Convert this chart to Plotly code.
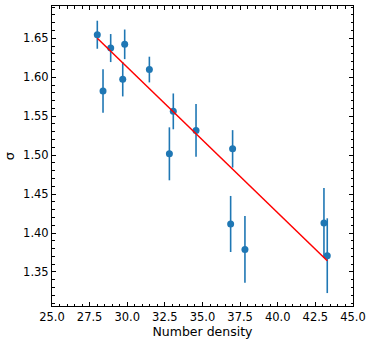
import plotly.graph_objects as go

number_density = [28.01, 28.39, 28.90, 29.70, 29.83, 31.47, 33.06, 32.80, 34.57, 37.00, 36.87, 37.82, 43.07, 43.29]
sigma = [1.6546, 1.5824, 1.6375, 1.5974, 1.6423, 1.6099, 1.5562, 1.5017, 1.5318, 1.5081, 1.4116, 1.3790, 1.4129, 1.3709]
sigma_err = [0.018, 0.028, 0.018, 0.022, 0.019, 0.0165, 0.023, 0.034, 0.034, 0.024, 0.036, 0.043, 0.045, 0.048]

fit_x = [28.01, 43.29]
fit_y = [1.6500, 1.3645]

x_ticks = [25.0, 27.5, 30.0, 32.5, 35.0, 37.5, 40.0, 42.5, 45.0]
y_ticks = [1.35, 1.40, 1.45, 1.50, 1.55, 1.60, 1.65]

blue = "#1f77b4"

fig = go.Figure()
fig.add_trace(go.Scatter(
    x=number_density, y=sigma, mode="markers",
    marker=dict(color=blue, size=7),
    error_y=dict(type="data", array=sigma_err, color=blue, thickness=1.6, width=0),
    showlegend=False,
))
fig.add_trace(go.Scatter(
    x=fit_x, y=fit_y, mode="lines",
    line=dict(color="red", width=1.5),
    showlegend=False,
))

axis_common = dict(
    showgrid=False, zeroline=False, showline=True, linecolor="black", linewidth=1,
    mirror="allticks", ticks="inside", ticklen=4, tickwidth=1, tickcolor="black",
    tickfont=dict(family="DejaVu Sans", size=11.5, color="black"),
)

fig.update_xaxes(
    range=[25, 45], tickvals=x_ticks, ticktext=[f"{v:.1f}" for v in x_ticks],
    minor=dict(ticks="inside", dtick=0.5, ticklen=2.5, tickcolor="black"),
    title=dict(text="Number density", font=dict(family="DejaVu Sans", size=12.5, color="black"), standoff=3),
    **axis_common,
)
fig.update_yaxes(
    range=[1.3063, 1.6915], tickvals=y_ticks, ticktext=[f"{v:.2f}" for v in y_ticks],
    minor=dict(ticks="inside", dtick=0.01, ticklen=2.5, tickcolor="black"),
    title=dict(text="σ", font=dict(family="DejaVu Sans", size=13, color="black"), standoff=5),
    **axis_common,
)

fig.update_layout(
    width=374, height=344,
    margin=dict(l=52, r=21, t=6, b=38),
    plot_bgcolor="white", paper_bgcolor="white",
)

fig.write_html("out.html", config={"displayModeBar": False},
               post_script="document.body.style.margin='0';document.body.style.overflow='hidden';")
